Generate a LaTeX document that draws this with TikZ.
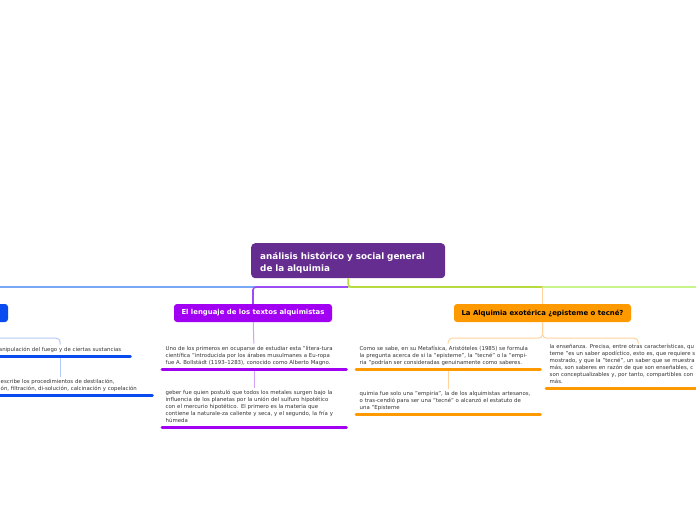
\documentclass[tikz,border=0pt]{standalone}
\usepackage{fontspec}
\setmainfont{DejaVu Sans}
\usetikzlibrary{positioning,calc}

\definecolor{rootpurple}{HTML}{662D91}
\definecolor{violetbox}{HTML}{A100F2}
\definecolor{violetln}{HTML}{9B4CF5}
\definecolor{violetlt}{HTML}{D2A2F7}
\definecolor{orangebox}{HTML}{FF9900}
\definecolor{orangelt}{HTML}{FFD39A}
\definecolor{bluebox}{HTML}{0A4BF0}
\definecolor{bluelt}{HTML}{B3CAF7}
\definecolor{blueln}{HTML}{7AA7F5}
\definecolor{greenln}{HTML}{B5DC3C}
\definecolor{greenlt}{HTML}{C8F58A}
\definecolor{txtgray}{HTML}{333333}

\begin{document}
\begin{tikzpicture}[x=1pt, y=-1pt,
  rootbox/.style={fill=rootpurple, rounded corners=4pt, text=white, align=left,
    font=\fontsize{8.8}{12}\selectfont\bfseries, text width=176pt, inner xsep=9pt,
    minimum height=35pt, anchor=north west},
  topic/.style={rounded corners=3pt, font=\fontsize{6.9}{8}\selectfont\bfseries,
    minimum height=18pt, inner sep=0pt},
  leaf/.style={font=\fontsize{5.4}{7}\selectfont, text=txtgray, align=left,
    text width=177pt, inner xsep=3.5pt, inner ysep=2pt, anchor=south west,
    execute at begin node=\strut, execute at end node=\strut},
  conn/.style={line width=1pt},
  mainconn/.style={line width=1.6pt},
  uline/.style={line width=3pt, line cap=round}
]
\useasboundingbox (0,0) rectangle (696,520);
\clip (0,0) rectangle (696,520);

% central topic and main branches
\node[rootbox] (root) at (251,243) {\rule{0pt}{11pt}análisis histórico y social general\\de la alquimia};
\node[topic, fill=bluebox, minimum width=116pt] (blue) at (-50,313) {};
\node[topic, fill=violetbox, text=white, minimum width=158pt] (lang) at (253,313) {El lenguaje de los textos alquimistas};
\node[topic, fill=orangebox, text=black, minimum width=177pt] (exo) at (542.5,313) {La Alquimia exotérica ¿episteme o tecné?};

\coordinate (hub) at (root.south |- 0,287);
\coordinate (farright) at (710,287);

\draw[mainconn, blueln] (hub) -| (blue.north);
\draw[mainconn, greenlt] (hub) -- (farright);
\draw[mainconn, greenln, rounded corners=3pt] (root.south) -- (hub) -- (exo.north |- hub);
\draw[conn, orangelt] (exo.north |- hub) -- (exo.north);
\draw[mainconn, violetln, rounded corners=3pt] (hub) -| (lang.north);

% left branch
\node[leaf, text width=133pt] (bl1) at (-10,356) {manipulación del fuego y de ciertas sustancias};
\node[leaf, text width=148pt] (bl2) at (-3,395) {escribe los  procedimientos de destilación,\\ón, filtración, di-solución, calcinación y copelación};

% middle branch
\node[leaf] (lt1) at (162,369) {Uno de los primeros en ocuparse de estudiar esta "litera-tura\\científica "introducida por los árabes musulmanes a Eu-ropa\\fue A. Bollstädt (1193–1283), conocido como Alberto Magno.};
\node[leaf] (lt2) at (162,427) {geber fue quien  postuló que todos los metales surgen bajo la\\influencia de los planetas por la unión del sulfuro hipotético\\con el mercurio hipotético. El primero es la materia que\\contiene la naturale-za caliente y seca, y el segundo, la fría y\\húmeda};

% right branch
\node[leaf] (et1) at (356,369) {Como se sabe, en su Metafísica, Aristóteles (1985) se formula\\la pregunta acerca de si la "episteme", la "tecné" o la "empi-\\ria "podrían ser consideradas genuinamente como saberes.};
\node[leaf] (et2) at (356,414) {quimia fue  solo una "empiria", la de los alquimistas artesanos,\\o tras-cendió para ser una "tecné" o alcanzó el estatuto de\\una  "Episteme};
\node[leaf] (et3) at (546,388) {la enseñanza. Precisa, entre otras características, qu\\teme "es un saber apodíctico, esto es, que requiere s\\mostrado, y que la "tecné", un saber que se muestra\\más, son saberes en razón de que son enseñables, c\\son conceptualizables y, por tanto, compartibles con\\más.};

% sub connectors
\draw[conn, bluelt, rounded corners=4pt] (blue.south) -- ++(0,16) -| (bl1.north);
\draw[conn, bluelt] (bl1.south) -- (bl1.south |- bl2.north);
\draw[conn, violetlt] (lang) -- (lt1);
\draw[conn, violetlt] (lt1) -- (lt2);
\draw[conn, orangelt, rounded corners=4pt] (exo.south) -- ++(0,16) -| (et1.north);
\draw[conn, orangelt, rounded corners=4pt] (exo.south) -- ++(0,16) -| (et3.north);
\draw[conn, orangelt] (et1) -- (et2);

% underlines
\foreach \n/\c in {bl1/bluebox, bl2/bluebox, lt1/violetbox, lt2/violetbox, et1/orangebox, et2/orangebox, et3/orangebox}
  \draw[uline, \c] (\n.south west) -- (\n.south east);
\end{tikzpicture}
\end{document}
